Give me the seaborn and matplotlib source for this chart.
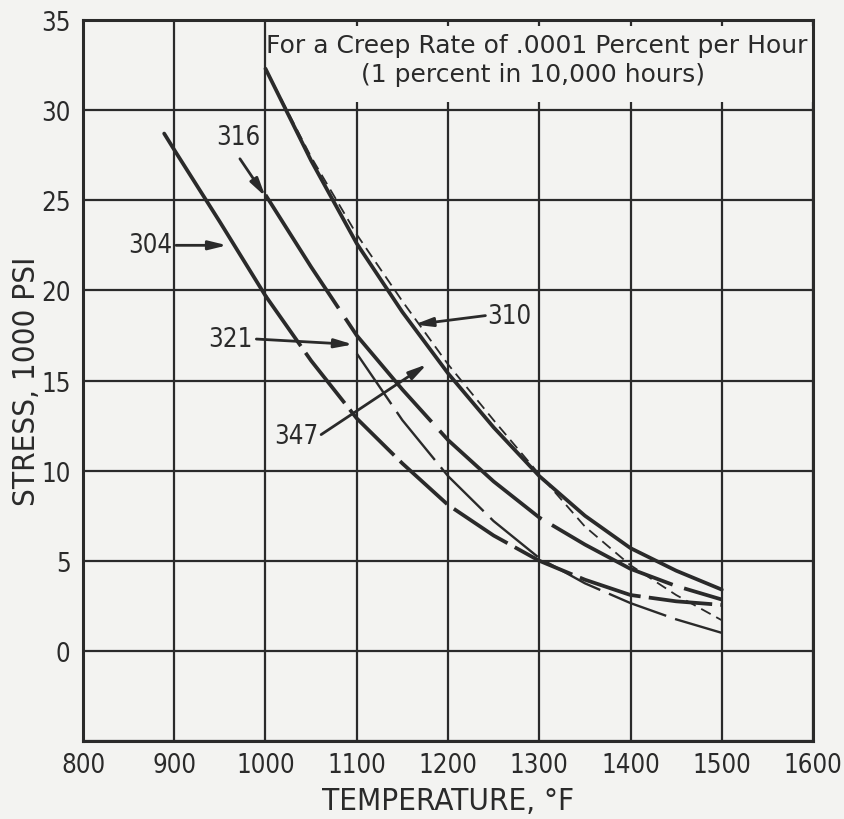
import matplotlib
matplotlib.use("Agg")
import matplotlib.pyplot as plt
from matplotlib import font_manager as fm
from matplotlib.patches import Rectangle
import pandas as pd
import seaborn as sns

# ---- data (temperature in °F, stress in 1000 psi) ----
temp_304 = [889, 900, 950, 1000, 1050, 1100, 1150, 1200, 1250, 1300, 1350, 1400, 1450, 1500]
stress_304 = [28.7, 27.8, 23.8, 19.7, 16.1, 12.9, 10.4, 8.1, 6.4, 5.0, 3.95, 3.1, 2.75, 2.55]

temp_316 = [1000, 1050, 1100, 1150, 1200, 1250, 1300, 1350, 1400, 1450, 1500]
stress_316 = [25.3, 21.3, 17.5, 14.5, 11.7, 9.4, 7.4, 5.9, 4.55, 3.6, 2.85]

temp_321 = [1100, 1150, 1200, 1250, 1300, 1350, 1400, 1450, 1500]
stress_321 = [16.5, 12.8, 9.7, 7.2, 5.15, 3.75, 2.65, 1.75, 1.0]

temp_347 = [1000, 1050, 1100, 1150, 1200, 1250, 1300, 1350, 1400, 1450, 1500]
stress_347 = [32.3, 27.2, 22.6, 18.8, 15.4, 12.4, 9.7, 7.5, 5.7, 4.45, 3.4]

temp_310 = [1000, 1050, 1100, 1150, 1200, 1250, 1300, 1350, 1400, 1450, 1500]
stress_310 = [32.3, 27.4, 23.1, 19.4, 15.9, 12.8, 9.8, 6.9, 4.75, 3.1, 1.7]

x_ticks = [800, 900, 1000, 1100, 1200, 1300, 1400, 1500, 1600]
y_ticks = [0, 5, 10, 15, 20, 25, 30, 35]
y_grid = [-5, 0, 5, 10, 15, 20, 25, 30, 35]

title_lines = ["For a Creep Rate of .0001 Percent per Hour",
               "(1 percent in 10,000 hours)"]

# label text, text position, arrow start, arrow tip
labels = ["304", "316", "321", "310", "347"]
label_xy = [(874, 22.5), (970, 28.5), (962, 17.3), (1267, 18.6), (1034, 11.9)]
arrow_start = [(902, 22.5), (972, 27.3), (990, 17.3), (1241, 18.6), (1061, 12.0)]
arrow_tip = [(958, 22.5), (1000, 25.2), (1096, 17.0), (1163, 18.1), (1177, 15.9)]

# ---- styling ----
BG = "#f3f3f1"
INK = "#2a2a2a"


def find_narrow_font():
    for f in fm.fontManager.ttflist:
        n = f.name.lower()
        fn = f.fname.lower()
        if ("narrow" in n or "narrow" in fn or "condensed" in fn
                or "condensed" in n or f.stretch in ("condensed", "semi-condensed")):
            if any(k in fn for k in ("bold", "oblique", "italic", "light", "black")):
                continue
            if f.weight not in ("normal", 400, "regular", "book"):
                continue
            return f.fname
    return None


narrow_path = find_narrow_font()
sns.set_theme(style="white")
if narrow_path:
    def fp(size):
        return fm.FontProperties(fname=narrow_path, size=size)
    TICK, AXL, LAB = 18.5, 22.5, 18.5
else:
    plt.rcParams["font.family"] = ["Roboto", "DejaVu Sans"]

    def fp(size):
        return fm.FontProperties(family=["Roboto", "DejaVu Sans"], size=size)
    TICK, AXL, LAB = 16.3, 18.5, 17.5

fig = plt.figure(figsize=(8.44, 8.20), dpi=100, facecolor=BG)
ax = fig.add_axes([0.0983, 0.0951, 0.865, 0.8793])
ax.set_facecolor(BG)


def curve(temps, stress):
    return pd.DataFrame({"temp": temps, "stress": stress})


d304 = curve(temp_304, stress_304)
d304_solid = d304[d304["temp"] <= 1000]
d304_dash = d304[d304["temp"] >= 1000]

thick = 2.7
thin = 1.3

sns.lineplot(data=d304_solid, x="temp", y="stress", ax=ax, color=INK,
             linewidth=thick, estimator=None, sort=False)
sns.lineplot(data=d304_dash, x="temp", y="stress", ax=ax, color=INK,
             linewidth=thick, estimator=None, sort=False,
             linestyle=(0.6, (17, 2.2)), dash_capstyle="butt")
sns.lineplot(data=curve(temp_316, stress_316), x="temp", y="stress", ax=ax,
             color=INK, linewidth=thick, estimator=None, sort=False,
             linestyle=(0, (36, 3.2)), dash_capstyle="butt")
sns.lineplot(data=curve(temp_321, stress_321), x="temp", y="stress", ax=ax,
             color=INK, linewidth=thin + 0.4, estimator=None, sort=False,
             linestyle=(0, (26, 4)), dash_capstyle="butt")
sns.lineplot(data=curve(temp_347, stress_347), x="temp", y="stress", ax=ax,
             color=INK, linewidth=thick, estimator=None, sort=False)
sns.lineplot(data=curve(temp_310, stress_310), x="temp", y="stress", ax=ax,
             color=INK, linewidth=thin, estimator=None, sort=False,
             linestyle=(0, (6, 3.5)), dash_capstyle="butt")

# axes, ticks, grid
ax.set_xlim(800, 1600)
ax.set_ylim(-5, 35)
ax.set_xticks(x_ticks)
ax.set_xticklabels([str(v) for v in x_ticks])
ax.set_yticks(y_grid)
ax.set_yticklabels(["" if v not in y_ticks else str(v) for v in y_grid])
ax.set_axisbelow(True)
ax.grid(True, color=INK, linewidth=1.6)
ax.tick_params(axis="both", length=0, colors=INK)
ax.tick_params(axis="y", pad=9)
ax.tick_params(axis="x", pad=8)
for lbl in ax.get_xticklabels() + ax.get_yticklabels():
    lbl.set_fontproperties(fp(TICK))
for s in ax.spines.values():
    s.set_visible(True)
    s.set_color(INK)
    s.set_linewidth(2.2)

ax.set_xlabel("TEMPERATURE, °F", fontproperties=fp(AXL), color=INK, labelpad=6)
ax.set_ylabel("STRESS, 1000 PSI", fontproperties=fp(AXL), color=INK, labelpad=0)

# title block inside the plot
ax.add_patch(Rectangle((1004, 30.45), 596, 4.2, facecolor=BG, edgecolor="none",
                       zorder=1))
ax.text(1297, 33.6, title_lines[0], ha="center", va="center", fontsize=18,
        color=INK, family=["DejaVu Sans"], zorder=3)
ax.text(1293, 32.0, title_lines[1], ha="center", va="center", fontsize=18,
        color=INK, family=["DejaVu Sans"], zorder=3)

# curve labels with arrows
for lab, pos, a0, a1 in zip(labels, label_xy, arrow_start, arrow_tip):
    ax.text(pos[0], pos[1], lab, ha="center", va="center",
            fontproperties=fp(LAB), color=INK, zorder=4)
    ax.annotate("", xy=a1, xytext=a0,
                arrowprops=dict(arrowstyle="-|>,head_length=0.9,head_width=0.22",
                                color=INK, lw=2.0, shrinkA=0, shrinkB=0),
                zorder=4)

fig.savefig("out.png", dpi=100, facecolor=BG)
